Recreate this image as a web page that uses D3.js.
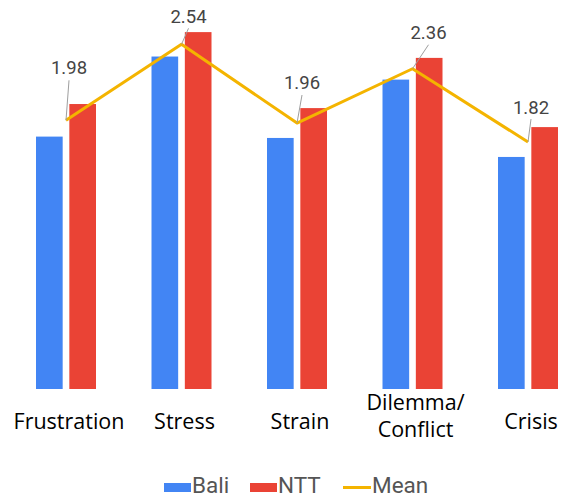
<!DOCTYPE html>
<html>
<head>
<meta charset="utf-8">
<script src="https://cdn.jsdelivr.net/npm/d3@7"></script>
<style>
  html, body { margin: 0; padding: 0; background: #fff; }
  svg { display: block; }
</style>
</head>
<body>
<div id="chart"></div>
<script>
// Stressor categories, with line breaks for the axis labels
const categories = ["Frustration", "Stress", "Strain", "Dilemma/Conflict", "Crisis"];
const categoryLines = [["Frustration"], ["Stress"], ["Strain"], ["Dilemma/", "Conflict"], ["Crisis"]];

// Mean scores per region
const bali = [1.86, 2.45, 1.85, 2.28, 1.71];
const ntt  = [2.10, 2.63, 2.07, 2.44, 1.93];
const mean = [1.98, 2.54, 1.96, 2.36, 1.82];

const seriesNames = ["Bali", "NTT"];
const legendNames = ["Bali", "NTT", "Mean"];

const colors = { Bali: "#4285F4", NTT: "#EA4335", Mean: "#F4B400" };

// Annotation placement for the mean labels: [dx, text dy, leader top dy]
const labelOffsets = [[3, -46, -40], [7, -21, -16], [5, -34, -28], [16, -30, -24], [3, -28, -23]];

const W = 563, H = 497;
const svg = d3.select("#chart").append("svg")
  .attr("width", W).attr("height", H);

const x = d3.scalePoint().domain(categories).range([66, 528]);
const inner = d3.scaleBand().domain(seriesNames).range([-30, 30]).paddingInner(0.2);
const y = d3.scaleLinear().domain([0, 2.8]).range([389, 389 - 2.8 * 135.7]);

const rows = categories.map((c, i) => ({ c, i, Bali: bali[i], NTT: ntt[i], Mean: mean[i] }));

// Bars
const groups = svg.append("g").selectAll("g").data(rows).join("g")
  .attr("transform", d => `translate(${x(d.c)},0)`);
groups.selectAll("rect")
  .data(d => seriesNames.map(s => ({ s, v: d[s] })))
  .join("rect")
  .attr("x", d => inner(d.s))
  .attr("width", inner.bandwidth())
  .attr("y", d => y(d.v))
  .attr("height", d => y(0) - y(d.v))
  .attr("fill", d => colors[d.s]);

// Mean line
const line = d3.line().x(d => x(d.c)).y(d => y(d.Mean));
svg.append("path").datum(rows)
  .attr("d", line)
  .attr("fill", "none")
  .attr("stroke", colors.Mean)
  .attr("stroke-width", 3)
  .attr("stroke-linejoin", "round");

// Mean value annotations with leader lines
const ann = svg.append("g").selectAll("g").data(rows).join("g");
ann.append("line")
  .attr("x1", d => x(d.c) + labelOffsets[d.i][0])
  .attr("y1", d => y(d.Mean) + labelOffsets[d.i][2])
  .attr("x2", d => x(d.c))
  .attr("y2", d => y(d.Mean))
  .attr("stroke", "#9e9e9e")
  .attr("stroke-width", 1);
ann.append("text")
  .attr("x", d => x(d.c) + labelOffsets[d.i][0])
  .attr("y", d => y(d.Mean) + labelOffsets[d.i][1])
  .attr("text-anchor", "middle")
  .attr("font-family", "Roboto, Arial, sans-serif")
  .attr("font-size", 18.5)
  .attr("fill", "#444")
  .text(d => d3.format(".2f")(d.Mean));

// Category axis labels
const axisLabels = svg.append("g").selectAll("text").data(rows).join("text")
  .attr("text-anchor", "middle")
  .attr("font-family", "'Open Sans', sans-serif")
  .attr("font-size", 21.5)
  .attr("fill", "#000");
axisLabels.each(function (d) {
  const lines = categoryLines[d.i];
  const t = d3.select(this);
  const base = lines.length > 1 ? 410 : 428.5;
  lines.forEach((ln, k) => {
    t.append("tspan")
      .attr("x", x(d.c) + (lines.length > 1 ? 3 : 3))
      .attr("y", base + k * 26.5)
      .text(ln);
  });
});

// Legend
const legendX = [164, 250, 343];
const legend = svg.append("g").selectAll("g").data(legendNames).join("g")
  .attr("transform", (d, i) => `translate(${legendX[i]},0)`);
legend.each(function (d) {
  const g = d3.select(this);
  if (d === "Mean") {
    g.append("line").attr("x1", 0).attr("x2", 28).attr("y1", 487.5).attr("y2", 487.5)
      .attr("stroke", colors.Mean).attr("stroke-width", 3);
  } else {
    g.append("rect").attr("x", 0).attr("y", 483).attr("width", 27).attr("height", 9)
      .attr("fill", colors[d]);
  }
});
legend.append("text")
  .attr("x", d => d === "Mean" ? 29 : 28)
  .attr("y", 493)
  .attr("font-family", "Roboto, Arial, sans-serif")
  .attr("font-size", 22.5)
  .attr("fill", "#555")
  .text(d => d);
</script>
</body>
</html>
